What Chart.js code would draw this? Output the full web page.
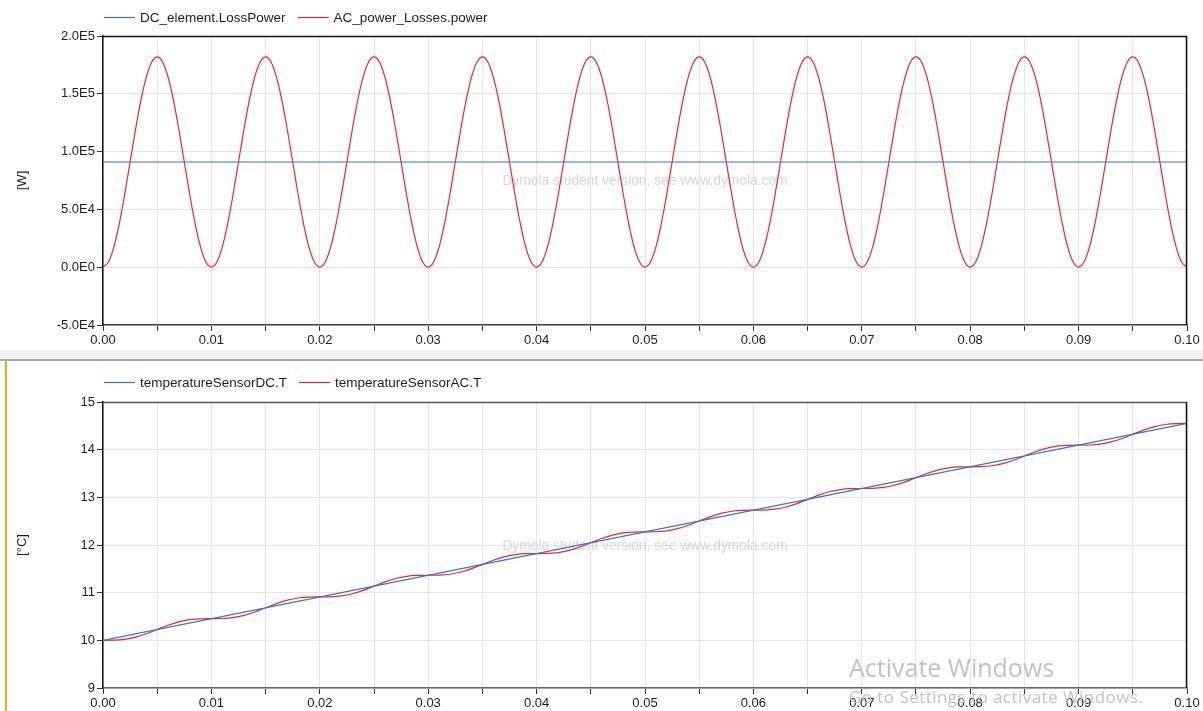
<!DOCTYPE html>
<html>
<head>
<meta charset="utf-8">
<script src="https://cdn.jsdelivr.net/npm/chart.js@4.4.1/dist/chart.umd.min.js"></script>
<style>
  html, body { margin:0; padding:0; background:#fff; }
  body { width:1203px; height:711px; position:relative; overflow:hidden; font-family:"Liberation Sans", Arial, sans-serif; }
  .abs { position:absolute; }
  .win { position:absolute; font-family:"Open Sans","Noto Sans",sans-serif; color:#c2c2c2; white-space:nowrap; }
</style>
</head>
<body>
<canvas id="c1" class="abs" width="1203" height="350" style="left:0;top:0"></canvas>
<div class="abs" style="left:0;top:350px;width:1203px;height:9px;background:#f0f0f0"></div>
<div class="abs" style="left:0;top:359px;width:1203px;height:2px;background:#a9a9a9"></div>
<canvas id="c2" class="abs" width="1203" height="350" style="left:0;top:361px"></canvas>
<div class="abs" style="left:5px;top:361px;width:2px;height:350px;background:#f5a623"></div>
<div class="win" style="left:849px;top:652px;font-size:25px;line-height:31px">Activate Windows</div>
<div class="win" style="left:849px;top:685px;font-size:17px;line-height:24px;letter-spacing:0.45px">Go to Settings to activate Windows.</div>
<script>
// ---------- data ----------
const powerTime = [0,0.0005,0.001,0.0015,0.002,0.0025,0.003,0.0035,0.004,0.0045,
  0.005,0.0055,0.006,0.0065,0.007,0.0075,0.008,0.0085,0.009,0.0095,
  0.010,0.0105,0.011,0.0115,0.012,0.0125,0.013,0.0135,0.014,0.0145,
  0.015,0.0155,0.016,0.0165,0.017,0.0175,0.018,0.0185,0.019,0.0195,
  0.020,0.0205,0.021,0.0215,0.022,0.0225,0.023,0.0235,0.024,0.0245,
  0.025,0.0255,0.026,0.0265,0.027,0.0275,0.028,0.0285,0.029,0.0295,
  0.030,0.0305,0.031,0.0315,0.032,0.0325,0.033,0.0335,0.034,0.0345,
  0.035,0.0355,0.036,0.0365,0.037,0.0375,0.038,0.0385,0.039,0.0395,
  0.040,0.0405,0.041,0.0415,0.042,0.0425,0.043,0.0435,0.044,0.0445,
  0.045,0.0455,0.046,0.0465,0.047,0.0475,0.048,0.0485,0.049,0.0495,
  0.050,0.0505,0.051,0.0515,0.052,0.0525,0.053,0.0535,0.054,0.0545,
  0.055,0.0555,0.056,0.0565,0.057,0.0575,0.058,0.0585,0.059,0.0595,
  0.060,0.0605,0.061,0.0615,0.062,0.0625,0.063,0.0635,0.064,0.0645,
  0.065,0.0655,0.066,0.0665,0.067,0.0675,0.068,0.0685,0.069,0.0695,
  0.070,0.0705,0.071,0.0715,0.072,0.0725,0.073,0.0735,0.074,0.0745,
  0.075,0.0755,0.076,0.0765,0.077,0.0775,0.078,0.0785,0.079,0.0795,
  0.080,0.0805,0.081,0.0815,0.082,0.0825,0.083,0.0835,0.084,0.0845,
  0.085,0.0855,0.086,0.0865,0.087,0.0875,0.088,0.0885,0.089,0.0895,
  0.090,0.0905,0.091,0.0915,0.092,0.0925,0.093,0.0935,0.094,0.0945,
  0.095,0.0955,0.096,0.0965,0.097,0.0975,0.098,0.0985,0.099,0.0995,0.100];

const acPower = [
  0,4450,17380,37510,62880,91000,119120,144490,164620,177550,182000,177550,164620,144490,119120,91000,62880,37510,17380,4450,
  0,4450,17380,37510,62880,91000,119120,144490,164620,177550,182000,177550,164620,144490,119120,91000,62880,37510,17380,4450,
  0,4450,17380,37510,62880,91000,119120,144490,164620,177550,182000,177550,164620,144490,119120,91000,62880,37510,17380,4450,
  0,4450,17380,37510,62880,91000,119120,144490,164620,177550,182000,177550,164620,144490,119120,91000,62880,37510,17380,4450,
  0,4450,17380,37510,62880,91000,119120,144490,164620,177550,182000,177550,164620,144490,119120,91000,62880,37510,17380,4450,
  0,4450,17380,37510,62880,91000,119120,144490,164620,177550,182000,177550,164620,144490,119120,91000,62880,37510,17380,4450,
  0,4450,17380,37510,62880,91000,119120,144490,164620,177550,182000,177550,164620,144490,119120,91000,62880,37510,17380,4450,
  0,4450,17380,37510,62880,91000,119120,144490,164620,177550,182000,177550,164620,144490,119120,91000,62880,37510,17380,4450,
  0,4450,17380,37510,62880,91000,119120,144490,164620,177550,182000,177550,164620,144490,119120,91000,62880,37510,17380,4450,
  0,4450,17380,37510,62880,91000,119120,144490,164620,177550,182000,177550,164620,144490,119120,91000,62880,37510,17380,4450,
  0];

const tempTime = [0,0.001,0.002,0.003,0.004,0.005,0.006,0.007,0.008,0.009,
  0.010,0.011,0.012,0.013,0.014,0.015,0.016,0.017,0.018,0.019,
  0.020,0.021,0.022,0.023,0.024,0.025,0.026,0.027,0.028,0.029,
  0.030,0.031,0.032,0.033,0.034,0.035,0.036,0.037,0.038,0.039,
  0.040,0.041,0.042,0.043,0.044,0.045,0.046,0.047,0.048,0.049,
  0.050,0.051,0.052,0.053,0.054,0.055,0.056,0.057,0.058,0.059,
  0.060,0.061,0.062,0.063,0.064,0.065,0.066,0.067,0.068,0.069,
  0.070,0.071,0.072,0.073,0.074,0.075,0.076,0.077,0.078,0.079,
  0.080,0.081,0.082,0.083,0.084,0.085,0.086,0.087,0.088,0.089,
  0.090,0.091,0.092,0.093,0.094,0.095,0.096,0.097,0.098,0.099,0.100];

const acTemp = [10.000,10.003,10.022,10.068,10.139,10.228,10.316,10.387,10.433,10.452,
  10.455,10.458,10.477,10.523,10.594,10.683,10.771,10.842,10.888,10.907,
  10.910,10.913,10.932,10.978,11.049,11.138,11.226,11.297,11.343,11.362,
  11.365,11.368,11.387,11.433,11.504,11.593,11.681,11.752,11.798,11.817,
  11.820,11.823,11.842,11.888,11.959,12.048,12.136,12.207,12.253,12.272,
  12.275,12.278,12.297,12.343,12.414,12.503,12.591,12.662,12.708,12.727,
  12.730,12.733,12.752,12.798,12.869,12.958,13.046,13.117,13.163,13.182,
  13.185,13.188,13.207,13.253,13.324,13.413,13.501,13.572,13.618,13.637,
  13.640,13.643,13.662,13.708,13.779,13.868,13.956,14.027,14.073,14.092,
  14.095,14.098,14.117,14.163,14.234,14.323,14.411,14.482,14.528,14.547,14.550];

const dcTime = [0, 0.1];
const dcPower = [91000, 91000];
const dcTemp = [10.0, 14.55];

const xTickLabels = ['0.00','','0.01','','0.02','','0.03','','0.04','','0.05','','0.06','','0.07','','0.08','','0.09','','0.10'];
const powerTickLabels = ['-5.0E4','0.0E0','5.0E4','1.0E5','1.5E5','2.0E5'];
const tempTickLabels = ['9','10','11','12','13','14','15'];

const topLegend = ['DC_element.LossPower','AC_power_Losses.power'];
const botLegend = ['temperatureSensorDC.T','temperatureSensorAC.T'];
const watermark = 'Dymola student version, see www.dymola.com';

// ---------- styling ----------
const BLUE = '#2f77d6';
const RED = '#f2242b';
const FONT = '"Liberation Sans", Arial, sans-serif';

function pts(xs, ys) { return xs.map((x, i) => ({x: x, y: ys[i]})); }

const framePlugin = {
  id: 'frame',
  beforeDatasetsDraw(chart) {
    const a = chart.chartArea, ctx = chart.ctx;
    ctx.save();
    ctx.font = '13.8px ' + FONT;
    ctx.fillStyle = '#d6d6d6';
    ctx.textAlign = 'center';
    ctx.textBaseline = 'middle';
    ctx.fillText(watermark, (a.left + a.right) / 2, (a.top + a.bottom) / 2 + 1);
    ctx.restore();
  },
  afterDraw(chart) {
    const a = chart.chartArea, ctx = chart.ctx;
    ctx.save();
    ctx.strokeStyle = chart.options.plugins.frame.topColor;
    ctx.lineWidth = 1.5;
    ctx.beginPath();
    ctx.moveTo(a.left, a.top + 0.5); ctx.lineTo(a.right, a.top + 0.5);
    ctx.stroke();
    ctx.strokeStyle = '#111';
    ctx.beginPath();
    ctx.moveTo(a.right - 0.5, a.top); ctx.lineTo(a.right - 0.5, a.bottom);
    ctx.stroke();
    // legend
    const lg = chart.options.plugins.frame;
    ctx.font = '13.5px ' + FONT;
    ctx.textBaseline = 'middle';
    ctx.textAlign = 'left';
    let x = 104;
    chart.data.datasets.forEach((ds) => {
      ctx.strokeStyle = ds.borderColor;
      ctx.lineWidth = 1.2;
      ctx.beginPath();
      ctx.moveTo(x, lg.legendY + 0.5); ctx.lineTo(x + 31, lg.legendY + 0.5);
      ctx.stroke();
      ctx.fillStyle = '#1e1e1e';
      ctx.fillText(ds.label, x + 36, lg.legendY + 1);
      x += 36 + ctx.measureText(ds.label).width + 12;
    });
    ctx.restore();
  }
};

function makeChart(id, datasets, yCfg, opts) {
  return new Chart(document.getElementById(id), {
    type: 'line',
    data: { datasets: datasets },
    plugins: [framePlugin],
    options: {
      responsive: false,
      animation: false,
      devicePixelRatio: 1,
      layout: { padding: { top: opts.top, right: 16, left: 0, bottom: 0 } },
      elements: { point: { radius: 0 }, line: { borderWidth: 1.2, cubicInterpolationMode: 'monotone' } },
      plugins: {
        legend: { display: false },
        tooltip: { enabled: false },
        frame: { legendY: opts.legendY, topColor: opts.topColor }
      },
      scales: {
        x: {
          type: 'linear', min: 0, max: 0.1,
          afterFit: (s) => { s.height = opts.xHeight; },
          ticks: {
            stepSize: 0.005, autoSkip: false, maxRotation: 0, padding: 2,
            color: '#1e1e1e', font: { family: FONT, size: 13 },
            callback: (v, i) => xTickLabels[i]
          },
          grid: { color: '#e4e4e4', lineWidth: 1, tickColor: '#333', tickLength: 6 },
          border: { display: true, color: opts.xBorder, width: 1.5 }
        },
        y: {
          min: yCfg.min, max: yCfg.max,
          afterFit: (s) => { s.width = 103; },
          ticks: {
            stepSize: yCfg.step, padding: 2,
            color: '#1e1e1e', font: { family: FONT, size: 13 },
            callback: (v, i) => yCfg.labels[i]
          },
          grid: { color: '#e4e4e4', lineWidth: 1, tickColor: '#333', tickLength: 6 },
          border: { display: true, color: '#111', width: 1.5 },
          title: { display: true, text: yCfg.title, color: '#1e1e1e', font: { family: FONT, size: 13 }, padding: { top: 15, bottom: 0 } }
        }
      }
    }
  });
}

makeChart('c1', [
  { label: topLegend[0], data: pts(dcTime, dcPower), borderColor: BLUE, backgroundColor: BLUE },
  { label: topLegend[1], data: pts(powerTime, acPower), borderColor: RED, backgroundColor: RED }
], { min: -50000, max: 200000, step: 50000, labels: powerTickLabels, title: '[W]' },
  { top: 36, xHeight: 25, legendY: 17, topColor: '#111', xBorder: '#444' });

makeChart('c2', [
  { label: botLegend[0], data: pts(dcTime, dcTemp), borderColor: BLUE, backgroundColor: BLUE },
  { label: botLegend[1], data: pts(tempTime, acTemp), borderColor: RED, backgroundColor: RED }
], { min: 9, max: 15, step: 1, labels: tempTickLabels, title: '[°C]' },
  { top: 41, xHeight: 23, legendY: 21, topColor: '#555', xBorder: '#666' });
</script>
</body>
</html>
